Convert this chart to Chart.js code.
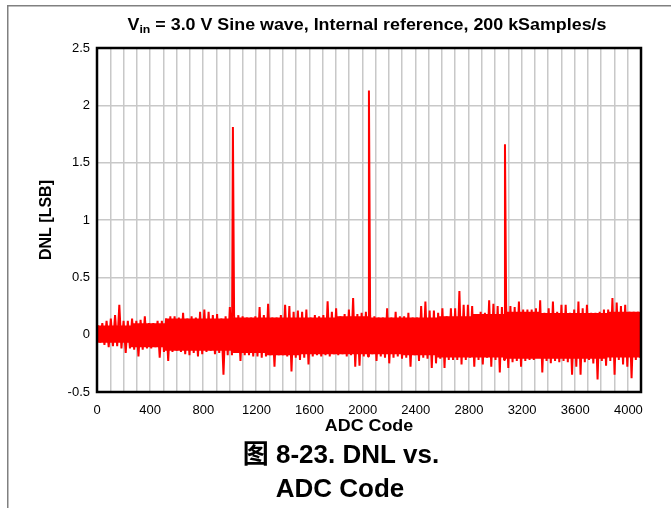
<!DOCTYPE html>
<html>
<head>
<meta charset="utf-8">
<script src="https://cdn.jsdelivr.net/npm/chart.js@4.4.1/dist/chart.umd.min.js"></script>
<style>
  html, body { margin: 0; padding: 0; background: #ffffff; }
  canvas { display: block; }
</style>
</head>
<body>
<canvas id="dnlChart" width="671" height="508"></canvas>
<script>
// DNL envelope, one high/low pair per block of 32 codes
const binWidth = 32;
const dnlHigh = [
    0.08, 0.10, 0.12, 0.14, 0.17, 0.26, 0.12, 0.12, 0.14, 0.12,
    0.13, 0.16, 0.10, 0.10, 0.12, 0.12, 0.14, 0.16, 0.16, 0.15,
    0.19, 0.14, 0.16, 0.15, 0.20, 0.22, 0.20, 0.17, 0.18, 0.14,
    0.16, 0.24, 0.17, 0.17, 0.16, 0.15, 0.15, 0.16, 0.24, 0.17,
    0.27, 0.15, 0.15, 0.17, 0.26, 0.25, 0.20, 0.21, 0.20, 0.22,
    0.15, 0.17, 0.16, 0.17, 0.29, 0.20, 0.23, 0.16, 0.18, 0.22,
    0.32, 0.18, 0.19, 0.20, 0.17, 0.16, 0.15, 0.15, 0.23, 0.15,
    0.20, 0.16, 0.16, 0.19, 0.15, 0.15, 0.25, 0.29, 0.21, 0.21,
    0.19, 0.23, 0.16, 0.23, 0.23, 0.38, 0.26, 0.26, 0.25, 0.18,
    0.20, 0.19, 0.30, 0.27, 0.25, 0.24, 0.25, 0.25, 0.24, 0.29,
    0.22, 0.22, 0.22, 0.23, 0.30, 0.19, 0.23, 0.29, 0.20, 0.26,
    0.26, 0.19, 0.22, 0.29, 0.23, 0.26, 0.19, 0.19, 0.20, 0.22,
    0.22, 0.32, 0.28, 0.25, 0.26, 0.20, 0.20, 0.20
];
const dnlLow = [
    -0.07, -0.09, -0.11, -0.10, -0.10, -0.12, -0.16, -0.12, -0.13, -0.19,
    -0.13, -0.12, -0.12, -0.11, -0.20, -0.15, -0.23, -0.15, -0.14, -0.15,
    -0.17, -0.18, -0.16, -0.19, -0.17, -0.15, -0.14, -0.17, -0.16, -0.35,
    -0.18, -0.18, -0.16, -0.23, -0.18, -0.18, -0.19, -0.19, -0.20, -0.19,
    -0.18, -0.28, -0.18, -0.18, -0.19, -0.32, -0.20, -0.22, -0.20, -0.26,
    -0.19, -0.18, -0.19, -0.18, -0.19, -0.17, -0.18, -0.17, -0.19, -0.18,
    -0.28, -0.27, -0.19, -0.19, -0.17, -0.23, -0.19, -0.20, -0.25, -0.20,
    -0.19, -0.21, -0.20, -0.28, -0.18, -0.23, -0.20, -0.21, -0.29, -0.25,
    -0.21, -0.29, -0.22, -0.22, -0.22, -0.26, -0.22, -0.20, -0.28, -0.22,
    -0.26, -0.20, -0.28, -0.22, -0.33, -0.22, -0.29, -0.24, -0.23, -0.28,
    -0.23, -0.22, -0.22, -0.20, -0.33, -0.23, -0.25, -0.23, -0.24, -0.23,
    -0.24, -0.35, -0.28, -0.35, -0.24, -0.22, -0.25, -0.39, -0.23, -0.27,
    -0.23, -0.35, -0.22, -0.26, -0.28, -0.38, -0.22, -0.20
];
// solid core of the noise band, per block of 256 codes
const coreWidth = 256;
const coreHigh = [0.08, 0.10, 0.14, 0.14, 0.15, 0.15, 0.15, 0.16,
                  0.15, 0.15, 0.16, 0.18, 0.20, 0.19, 0.19, 0.20];
const coreLow = [-0.07, -0.11, -0.14, -0.14, -0.16, -0.18, -0.17, -0.17,
                 -0.17, -0.18, -0.20, -0.20, -0.21, -0.21, -0.21, -0.20];
// the three big missing-code spikes
const spikeCodes = [1023, 2047, 3071];
const spikeValues = [1.81, 2.13, 1.66];

const xMin = 0, xMax = 4095, xStep = 100;
const xLabels = [0, 400, 800, 1200, 1600, 2000, 2400, 2800, 3200, 3600, 4000];
const yMin = -0.5, yMax = 2.5, yStep = 0.5;

const titleMain = 'V';
const titleSub = 'in';
const titleRest = ' = 3.0 V Sine wave, Internal reference, 200 kSamples/s';
const xTitle = 'ADC Code';
const yTitle = 'DNL [LSB]';
const captionLines = ['图 8-23. DNL vs.', 'ADC Code'];

// build the trace: high and low point of every block, plus spikes
const points = [];
dnlHigh.forEach(function (v, i) {
    points.push({ x: i * binWidth + 8, y: v });
    points.push({ x: i * binWidth + 24, y: dnlLow[i] });
});
spikeCodes.forEach(function (c, i) {
    points.push({ x: c, y: spikeValues[i] });
});
points.sort(function (a, b) { return a.x - b.x; });

// core band edges as step lines (value holds until the next block)
function coreSteps(vals) {
    const out = vals.map(function (v, i) { return { x: i * coreWidth, y: v }; });
    out.push({ x: xMax, y: vals[vals.length - 1] });
    return out;
}

const FONT = "'Liberation Sans', Arial, 'Noto Sans CJK SC', sans-serif";

const decorPlugin = {
    id: 'decor',
    beforeDraw: function (chart) {
        const ctx = chart.ctx;
        ctx.save();
        ctx.fillStyle = '#ffffff';
        ctx.fillRect(0, 0, chart.width, chart.height);
        // page frame lines
        ctx.fillStyle = '#808080';
        ctx.fillRect(7, 5, 1.5, chart.height - 5);
        ctx.fillRect(7, 5, chart.width - 7, 1.5);
        ctx.restore();
    },
    afterDatasetsDraw: function (chart) {
        const a = chart.chartArea;
        const ctx = chart.ctx;
        ctx.save();
        ctx.strokeStyle = '#000000';
        ctx.lineWidth = 2.5;
        ctx.strokeRect(a.left, a.top, a.right - a.left, a.bottom - a.top);
        ctx.restore();
    },
    afterDraw: function (chart) {
        const ctx = chart.ctx;
        const a = chart.chartArea;
        const cx = (a.left + a.right) / 2;
        const stretch = 1.116;
        ctx.save();
        ctx.fillStyle = '#000000';
        ctx.textBaseline = 'alphabetic';

        // x tick labels, placed with the x scale
        const xs = chart.scales.x;
        ctx.font = '13px ' + FONT;
        ctx.textAlign = 'center';
        xLabels.forEach(function (v) {
            ctx.fillText(String(v), xs.getPixelForValue(v), a.bottom + 22);
        });
        ctx.textAlign = 'left';

        // chart title with subscript
        const big = 'bold 16px ' + FONT;
        const small = 'bold 11px ' + FONT;
        ctx.font = big;
        const w1 = ctx.measureText(titleMain).width;
        const w3 = ctx.measureText(titleRest).width;
        ctx.font = small;
        const w2 = ctx.measureText(titleSub).width;
        ctx.save();
        ctx.translate(cx - 2, 30);
        ctx.scale(stretch, 1);
        let x = -(w1 + w2 + w3) / 2;
        ctx.font = big;
        ctx.fillText(titleMain, x, 0);
        x += w1;
        ctx.font = small;
        ctx.fillText(titleSub, x, 3);
        x += w2;
        ctx.font = big;
        ctx.fillText(titleRest, x, 0);
        ctx.restore();

        // x axis title
        ctx.save();
        ctx.translate(cx, 431);
        ctx.scale(stretch, 1);
        ctx.font = big;
        ctx.textAlign = 'center';
        ctx.fillText(xTitle, 0, 0);
        ctx.restore();

        // y axis title
        ctx.save();
        ctx.translate(51, (a.top + a.bottom) / 2);
        ctx.rotate(-Math.PI / 2);
        ctx.font = big;
        ctx.textAlign = 'center';
        ctx.fillText(yTitle, 0, 0);
        ctx.restore();

        // figure caption
        ctx.font = 'bold 26px ' + FONT;
        ctx.textAlign = 'center';
        ctx.fillText(captionLines[0], 341, 463);
        ctx.fillText(captionLines[1], 340, 497);
        ctx.restore();
    }
};

const ctx = document.getElementById('dnlChart').getContext('2d');
new Chart(ctx, {
    type: 'line',
    data: {
        datasets: [{
            label: 'DNL',
            data: points,
            borderColor: '#ff0000',
            borderWidth: 2,
            borderJoinStyle: 'bevel',
            pointRadius: 0,
            tension: 0,
            fill: false
        }, {
            label: 'core high',
            data: coreSteps(coreHigh),
            stepped: 'before',
            borderWidth: 0,
            borderColor: 'rgba(0,0,0,0)',
            backgroundColor: '#ff0000',
            pointRadius: 0,
            fill: '+1'
        }, {
            label: 'core low',
            data: coreSteps(coreLow),
            stepped: 'before',
            borderWidth: 0,
            borderColor: 'rgba(0,0,0,0)',
            pointRadius: 0,
            fill: false
        }]
    },
    options: {
        responsive: false,
        animation: false,
        events: [],
        layout: { padding: { top: 48, right: 30, bottom: 0, left: 0 } },
        plugins: {
            legend: { display: false },
            tooltip: { enabled: false },
            title: { display: false }
        },
        scales: {
            x: {
                type: 'linear',
                min: xMin,
                max: xMax,
                afterFit: function (scale) { scale.height = 116; },
                border: { display: false },
                grid: { color: '#c8c8c8', lineWidth: 1.5, drawTicks: false },
                ticks: {
                    stepSize: xStep,
                    includeBounds: false,
                    autoSkip: false,
                    maxTicksLimit: 100,
                    maxRotation: 0,
                    minRotation: 0,
                    display: false
                }
            },
            y: {
                min: yMin,
                max: yMax,
                afterFit: function (scale) { scale.width = 97; },
                border: { display: false },
                grid: { color: '#c8c8c8', lineWidth: 1.5, drawTicks: false },
                ticks: {
                    stepSize: yStep,
                    padding: 7,
                    color: '#000000',
                    font: { family: FONT, size: 13 },
                    callback: function (v) { return String(v); }
                }
            }
        }
    },
    plugins: [decorPlugin]
});
</script>
</body>
</html>
